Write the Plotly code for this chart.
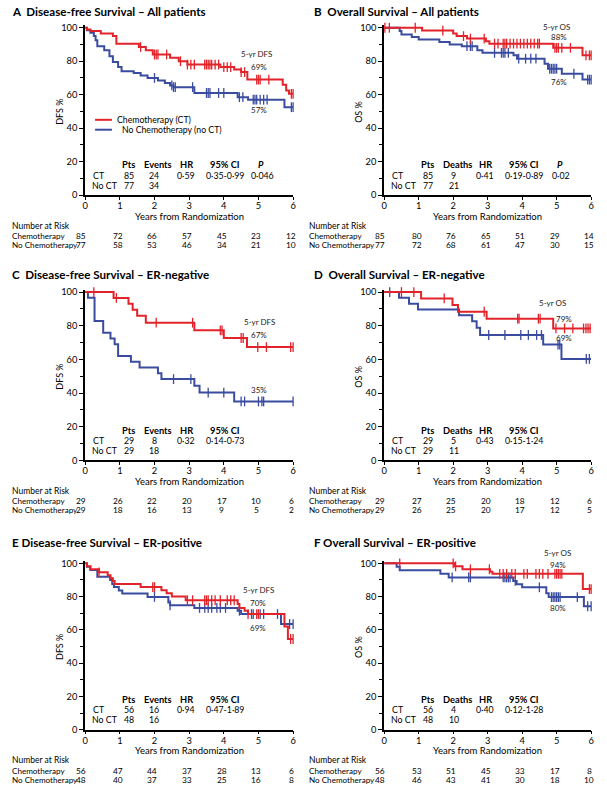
import plotly.graph_objects as go

W, H = 607, 798
RED = '#e3232a'
BLUE = '#3a4c9f'
FONT = 'Lato'

# ---------------- data ----------------
years = [0, 1, 2, 3, 4, 5, 6]
y_ticks = [0, 20, 40, 60, 80, 100]

# A: Disease-free survival, all patients
a_ct_t = [0.05, 0.15, 0.45, 0.8, 0.9, 1.55, 1.75, 1.95, 2.45, 2.7, 2.95, 3.9, 4.3, 4.5, 4.68, 5.7, 5.8, 5.88]
a_ct_s = [99, 98, 96.5, 95, 90.5, 88.5, 86.5, 84, 82, 80, 78, 76.5, 75, 73.5, 69, 66, 62.5, 60.5]
a_ct_c = [1.6, 2.0, 2.05, 2.1, 2.35, 2.75, 2.95, 3.05, 3.15, 3.45, 3.5, 3.55, 3.6, 3.65, 3.75, 3.85,
          4.0, 4.1, 4.2, 4.5, 4.6, 4.95, 5.0, 5.05, 5.3, 5.95, 6.0]
a_no_t = [0.05, 0.15, 0.25, 0.3, 0.35, 0.55, 0.7, 0.8, 0.95, 1.05, 1.4, 1.6, 1.8, 2.1, 2.3, 2.45, 2.55,
          3.15, 4.4, 4.7, 5.75]
a_no_s = [98.5, 97, 95, 92.5, 89, 86.5, 83, 79.5, 76.5, 74, 73, 71.5, 70, 68.5, 67, 65.5, 64.5,
          61, 58.5, 57, 52.5]
a_no_c = [2.0, 2.5, 2.55, 2.6, 3.1, 3.5, 3.55, 3.6, 3.85, 4.0, 4.45, 4.55, 4.85, 4.9, 4.95, 5.05,
          5.15, 5.25, 5.95, 6.0]

# B: Overall survival, all patients
b_ct_t = [1.1, 2.0, 2.1, 2.4, 2.95, 3.05, 4.9, 5.75]
b_ct_s = [98.3, 96.5, 95, 93.5, 92, 90.5, 88, 83.5]
b_ct_c = [0.02, 0.15, 0.9, 1.7, 2.3, 2.5, 2.9, 3.2, 3.3, 3.45, 3.5, 3.55, 3.65, 3.75, 3.85, 3.95,
          4.05, 4.15, 4.25, 4.35, 4.45, 4.5, 4.95, 5.0, 5.05, 5.15, 5.4, 5.85, 5.95, 6.0]
b_no_t = [0.45, 0.5, 0.8, 1.0, 1.6, 1.9, 2.25, 2.7, 2.85, 3.75, 3.85, 4.65, 4.75, 5.15, 5.75]
b_no_s = [98, 96, 94.5, 93, 91.5, 90, 89, 86.5, 85, 83.5, 81.5, 78.5, 75.5, 72.5, 69]
b_no_c = [2.4, 2.5, 2.55, 3.2, 3.4, 3.45, 3.5, 3.6, 3.9, 4.1, 4.25, 4.4, 4.8, 4.85, 4.9, 4.95, 5.0,
          5.5, 5.9, 5.95, 6.0]

# C: Disease-free survival, ER-negative
c_ct_t = [0.82, 1.25, 1.37, 1.5, 1.75, 3.15, 4.0, 4.67]
c_ct_s = [96.5, 93, 89.5, 86, 81.8, 77.3, 72.7, 67.3]
c_ct_c = [0.25, 0.9, 2.05, 3.1, 3.9, 3.95, 4.5, 4.56, 4.98, 5.23, 5.93, 6.0]
c_no_t = [0.08, 0.27, 0.52, 0.73, 0.85, 0.95, 1.32, 1.57, 2.1, 2.2, 3.15, 3.3, 4.3]
c_no_s = [96.6, 82.8, 75.9, 72.4, 69, 62, 58.6, 55.2, 51.7, 48.3, 44.4, 40.3, 35]
c_no_c = [2.55, 3.05, 3.55, 4.0, 4.5, 4.6, 5.0, 5.1, 5.15, 6.0]

# D: Overall survival, ER-negative
d_ct_t = [1.07, 1.98, 2.14, 2.97, 4.9]
d_ct_s = [96.2, 92.3, 88.3, 84.2, 78.4]
d_ct_c = [0.5, 0.86, 1.74, 2.9, 3.87, 3.91, 4.47, 4.52, 4.98, 5.23, 5.47, 5.78, 5.85, 5.91, 5.97]
d_no_t = [0.43, 0.72, 0.98, 2.17, 2.55, 2.68, 2.78, 4.61, 5.14]
d_no_s = [96.6, 93.1, 89.7, 86.2, 82.6, 78.8, 74.5, 68.8, 60.3]
d_no_c = [0.16, 3.03, 3.5, 3.96, 4.18, 4.42, 4.56, 5.04, 5.09, 5.86, 5.95]

# E: Disease-free survival, ER-positive
e_ct_t = [0.05, 0.15, 0.4, 0.65, 0.73, 0.8, 0.85, 1.6, 2.2, 2.35, 2.5, 2.9, 4.4, 4.45, 4.6, 4.7, 5.75, 5.85]
e_ct_s = [98.2, 96.4, 94.6, 92.9, 91.1, 89.3, 87.5, 85.7, 83.8, 82.0, 80.0, 77.8, 75.5, 73.2, 71.5, 69.5, 62, 54.5]
e_ct_c = [0.4, 1.95, 2.0, 2.95, 3.1, 3.45, 3.5, 3.55, 3.65, 3.75, 3.9, 4.1, 4.2, 4.3, 4.7, 4.95, 5.0, 5.93, 6.0]
e_no_t = [0.05, 0.15, 0.35, 0.72, 0.78, 0.83, 0.97, 1.07, 1.8, 2.4, 2.45, 3.15, 4.4, 4.5, 5.65]
e_no_s = [98, 96, 92, 90, 87.5, 85.7, 83.7, 81.8, 79.8, 76.5, 74.8, 73.2, 71.5, 69.5, 63.5]
e_no_c = [2.0, 2.45, 3.3, 3.45, 3.55, 3.65, 3.8, 3.9, 4.05, 4.45, 4.8, 4.85, 5.05, 5.15, 5.55, 5.9, 6.0]

# F: Overall survival, ER-positive
f_ct_t = [2.04, 2.27, 3.07, 3.14, 5.76]
f_ct_s = [98.2, 96.4, 95.0, 93.7, 84.5]
f_ct_c = [0.45, 2.0, 2.07, 2.5, 3.05, 3.35, 3.45, 3.55, 3.7, 3.8, 4.05, 4.15, 4.4, 4.5, 4.6, 4.75,
          4.95, 5.0, 5.05, 5.1, 5.15, 5.95, 6.0]
f_no_t = [0.36, 0.45, 1.63, 1.87, 3.74, 3.84, 4.0, 4.7, 4.77, 5.79]
f_no_s = [97.9, 95.8, 93.7, 91.5, 89.4, 87.4, 85.6, 82.0, 79.7, 74.2]
f_no_c = [1.97, 2.45, 2.5, 3.45, 3.5, 3.55, 3.6, 3.65, 3.8, 4.5, 4.85, 4.9, 4.95, 5.0, 5.05, 5.1,
          5.6, 5.9, 6.0]

# Number at risk
a_risk_ct = [85, 72, 66, 57, 45, 23, 12]
a_risk_no = [77, 58, 53, 46, 34, 21, 10]
b_risk_ct = [85, 80, 76, 65, 51, 29, 14]
b_risk_no = [77, 72, 68, 61, 47, 30, 15]
c_risk_ct = [29, 26, 22, 20, 17, 10, 6]
c_risk_no = [29, 18, 16, 13, 9, 5, 2]
d_risk_ct = [29, 27, 25, 20, 18, 12, 6]
d_risk_no = [29, 26, 25, 20, 17, 12, 5]
e_risk_ct = [56, 47, 44, 37, 28, 13, 6]
e_risk_no = [48, 40, 37, 33, 25, 16, 8]
f_risk_ct = [56, 53, 51, 45, 33, 17, 8]
f_risk_no = [48, 46, 43, 41, 30, 18, 10]

# Statistics tables: [Pts, events, HR, CI, P]
a_stat_ct = ['85', '24', '0·59', '0·35-0·99', '0·046']
a_stat_no = ['77', '34']
b_stat_ct = ['85', '9', '0·41', '0·19-0·89', '0·02']
b_stat_no = ['77', '21']
c_stat_ct = ['29', '8', '0·32', '0·14-0·73', '']
c_stat_no = ['29', '18']
d_stat_ct = ['29', '5', '0·43', '0·15-1·24', '']
d_stat_no = ['29', '11']
e_stat_ct = ['56', '16', '0·94', '0·47-1·89', '']
e_stat_no = ['48', '16']
f_stat_ct = ['56', '4', '0·40', '0·12-1·28', '']
f_stat_no = ['48', '10']

# 5-year labels: [header, CT %, no CT %]
a_5yr = ['5-yr DFS', '69%', '57%']
b_5yr = ['5-yr OS', '88%', '76%']
c_5yr = ['5-yr DFS', '67%', '35%']
d_5yr = ['5-yr OS', '79%', '69%']
e_5yr = ['5-yr DFS', '70%', '69%']
f_5yr = ['5-yr OS', '94%', '80%']

# ---------------- layout geometry (pixels) ----------------
COLX = [(83, 293), (385, 594)]
ROWY = [(25, 194), (292, 462), (566, 734)]  # (y of 100%, y of 0%)
YMAX = 101.5

panels = [
    dict(n=1, col=0, row=0, title='A  Disease-free Survival – All patients', ylab='DFS %', ev='Events',
         ct=(a_ct_t, a_ct_s, a_ct_c), no=(a_no_t, a_no_s, a_no_c), risk=(a_risk_ct, a_risk_no),
         stat=(a_stat_ct, a_stat_no), five=a_5yr, pos5=[(256, 52), (259, 65), (259, 108)], P=True),
    dict(n=2, col=1, row=0, title='B  Overall Survival – All patients', ylab='OS %', ev='Deaths',
         ct=(b_ct_t, b_ct_s, b_ct_c), no=(b_no_t, b_no_s, b_no_c), risk=(b_risk_ct, b_risk_no),
         stat=(b_stat_ct, b_stat_no), five=b_5yr, pos5=[(559, 24), (562, 34), (562, 80)], P=True),
    dict(n=3, col=0, row=1, title='C  Disease-free Survival – ER-negative', ylab='DFS %', ev='Events',
         ct=(c_ct_t, c_ct_s, c_ct_c), no=(c_no_t, c_no_s, c_no_c), risk=(c_risk_ct, c_risk_no),
         stat=(c_stat_ct, c_stat_no), five=c_5yr, pos5=[(259, 322), (259, 335), (259, 391)], P=False),
    dict(n=4, col=1, row=1, title='D  Overall Survival – ER-negative', ylab='OS %', ev='Deaths',
         ct=(d_ct_t, d_ct_s, d_ct_c), no=(d_no_t, d_no_s, d_no_c), risk=(d_risk_ct, d_risk_no),
         stat=(d_stat_ct, d_stat_no), five=d_5yr, pos5=[(555, 303), (567, 319), (567, 338)], P=False),
    dict(n=5, col=0, row=2, title='E Disease-free Survival – ER-positive', ylab='DFS %', ev='Events',
         ct=(e_ct_t, e_ct_s, e_ct_c), no=(e_no_t, e_no_s, e_no_c), risk=(e_risk_ct, e_risk_no),
         stat=(e_stat_ct, e_stat_no), five=e_5yr, pos5=[(258, 593), (258, 606), (258, 631)], P=False),
    dict(n=6, col=1, row=2, title='F Overall Survival – ER-positive', ylab='OS %', ev='Deaths',
         ct=(f_ct_t, f_ct_s, f_ct_c), no=(f_no_t, f_no_s, f_no_c), risk=(f_risk_ct, f_risk_no),
         stat=(f_stat_ct, f_stat_no), five=f_5yr, pos5=[(560, 556), (561, 568), (561, 611)], P=False),
]


def px(x):
    return x / W


def py(y):
    return 1 - y / H


def surv_at(tc, t, s):
    v = 100
    for ti, si in zip(t, s):
        if ti <= tc:
            v = si
    return v


fig = go.Figure()
annotations = []
shapes = []


def text(t, x, y, size=9, xanchor='left', color='black', **kw):
    annotations.append(dict(text=t, x=px(x), y=py(y), xref='paper', yref='paper',
                            xanchor=xanchor, yanchor='middle', showarrow=False,
                            font=dict(size=size, color=color, family=FONT), **kw))


for p in panels:
    n = p['n']
    sfx = '' if n == 1 else str(n)
    x0, x1 = COLX[p['col']]
    y100, y0 = ROWY[p['row']]
    hpx = (y0 - y100) / 100.0
    ytop = y100 - (YMAX - 100) * hpx

    common_x = dict(domain=[px(x0), px(x1)], anchor='y' + sfx, range=[0, 6], tickmode='array',
                    tickvals=years, ticks='outside', ticklen=3, tickwidth=1, tickcolor='black',
                    ticklabelstandoff=-2,
                    showline=True, linecolor='black', linewidth=1.5, showgrid=False, zeroline=False,
                    tickfont=dict(size=9.3, family=FONT, color='black'))
    common_y = dict(domain=[py(y0), py(ytop)], anchor='x' + sfx, range=[0, YMAX], tickmode='array',
                    tickvals=y_ticks, ticks='outside', ticklen=4, tickwidth=1, tickcolor='black',
                    minor=dict(tickvals=[10, 30, 50, 70, 90], ticks='outside', ticklen=3,
                               tickcolor='black', tickwidth=1),
                    showline=True, linecolor='black', linewidth=2, showgrid=False, zeroline=False,
                    tickfont=dict(size=9.3, family=FONT, color='black'))
    fig.update_layout(**{'xaxis' + sfx: common_x, 'yaxis' + sfx: common_y})

    for arm, color, name in ((p['no'], BLUE, 'No Chemotherapy (no CT)'),
                             (p['ct'], RED, 'Chemotherapy (CT)')):
        t, s, c = arm
        end = max(6.0, max(c) if c else 6.0)
        xs = [0] + list(t) + [end]
        ys = [100] + list(s) + [s[-1]]
        fig.add_trace(go.Scatter(x=xs, y=ys, mode='lines', line=dict(color=color, width=2, shape='hv'),
                                 xaxis='x' + sfx, yaxis='y' + sfx, name=name, showlegend=False,
                                 hoverinfo='skip'))
        fig.add_trace(go.Scatter(x=c, y=[surv_at(tc, t, s) for tc in c], mode='markers',
                                 marker=dict(symbol='line-ns', size=7,
                                             line=dict(color=color, width=1.3)),
                                 xaxis='x' + sfx, yaxis='y' + sfx, showlegend=False, cliponaxis=False,
                                 name=name + ' censored'))

    # title
    tx = 7 if p['col'] == 0 else 312
    ty = [9, 274, 545][p['row']]
    text('<b>' + p['title'] + '</b>', tx, ty, size=11.6)

    # y label
    text(p['ylab'], x0 - 26, (y100 + y0) / 2, size=9, xanchor='center', textangle=-90)
    # x title
    text('Years from Randomization', (x0 + x1) / 2, y0 + 21.5, size=9.5, xanchor='center')

    # stats table
    hdr_y, ct_y, no_y = y0 - 30.5, y0 - 20, y0 - 10
    text('<b>Pts</b>', x0 + 44, hdr_y, size=9.3, xanchor='center')
    text('<b>' + p['ev'] + '</b>', x0 + 74, hdr_y, size=9.3, xanchor='center')
    text('<b>HR</b>', x0 + 102, hdr_y, size=9.3, xanchor='center')
    text('<b>95% CI</b>', x0 + 141, hdr_y, size=9.3, xanchor='center')
    if p['P']:
        text('<b><i>P</i></b>', x0 + 178, hdr_y, size=9.3, xanchor='center')
    sct, sno = p['stat']
    text('CT', x0 + 6, ct_y, size=8.8)
    text('No CT', x0 + 5, no_y, size=8.8)
    cols = [44, 70, 102, 141, 179]
    for v, cx in zip(sct, cols):
        if v:
            text(v, x0 + cx, ct_y, size=8.8, xanchor='center')
    for v, cx in zip(sno, cols):
        text(v, x0 + cx, no_y, size=8.8, xanchor='center')

    # 5-year labels
    for lab, (lx, ly) in zip(p['five'], p['pos5']):
        text(lab, lx, ly, size=8, xanchor='center', color='#222222')

    # number at risk
    lx = 7 if p['col'] == 0 else 307
    text('Number at Risk', lx, y0 + 31, size=8.5)
    text('Chemotherapy', lx, y0 + 41.5, size=8.1)
    text('No Chemotherapy', lx, y0 + 50.5, size=8.1)
    rct, rno = p['risk']
    for i, yr in enumerate(years):
        sh = -4 if i == 0 else -2
        for val, ry in ((rct[i], y0 + 41.5), (rno[i], y0 + 50.5)):
            annotations.append(dict(text=str(val), x=yr, xref='x' + sfx, y=py(ry), yref='paper',
                                    xanchor='center', yanchor='middle', xshift=sh, showarrow=False,
                                    font=dict(size=8.4, family=FONT, color='black')))

# legend for panel A (drawn manually)
shapes.append(dict(type='line', xref='paper', yref='paper', x0=px(93), x1=px(110), y0=py(118), y1=py(118),
                   line=dict(color=RED, width=2)))
shapes.append(dict(type='line', xref='paper', yref='paper', x0=px(93), x1=px(110), y0=py(128), y1=py(128),
                   line=dict(color=BLUE, width=2)))
text('Chemotherapy (CT)', 113, 118, size=8.7)
text('No Chemotherapy (no CT)', 118, 128, size=8.7)

fig.update_layout(width=W, height=H, margin=dict(l=0, r=0, t=0, b=0), paper_bgcolor='white',
                  plot_bgcolor='white', showlegend=False, annotations=annotations, shapes=shapes,
                  font=dict(family=FONT, color='black'))
fig.write_html('out.html', config={'displayModeBar': False},
               post_script="document.body.style.margin='0px';document.body.style.padding='0px';")
